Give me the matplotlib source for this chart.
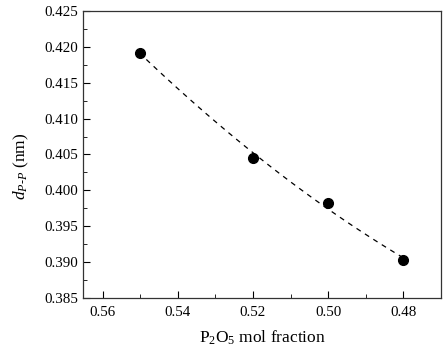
import numpy as np
import matplotlib
matplotlib.use("Agg")
import matplotlib.pyplot as plt
from matplotlib.ticker import MultipleLocator, FormatStrFormatter

plt.rcParams['font.family'] = ['Liberation Serif', 'DejaVu Serif']
plt.rcParams['mathtext.fontset'] = 'custom'
plt.rcParams['mathtext.rm'] = 'Liberation Serif'
plt.rcParams['mathtext.it'] = 'Liberation Serif:italic'

# data
p2o5 = [0.55, 0.52, 0.50, 0.48]
d_pp = [0.4192, 0.4045, 0.3983, 0.3903]

# quadratic fit for the dashed guide line
coef = np.polyfit(p2o5, d_pp, 2)
xf = np.linspace(min(p2o5), max(p2o5), 100)
yf = np.polyval(coef, xf)

fig = plt.figure(figsize=(4.48, 3.58), dpi=100)
ax = fig.add_axes([83/448, 1 - 298/358, (441-83)/448, (298-11)/358])

ax.plot(xf, yf, '--', color='black', lw=0.9, dashes=(4, 4))
ax.plot(p2o5, d_pp, 'o', color='black', ms=7)

ax.set_xlim(0.5653, 0.4699)
ax.set_ylim(0.385, 0.425)
ax.xaxis.set_major_locator(MultipleLocator(0.02))
ax.xaxis.set_minor_locator(MultipleLocator(0.01))
ax.yaxis.set_major_locator(MultipleLocator(0.005))
ax.yaxis.set_minor_locator(MultipleLocator(0.0025))
ax.xaxis.set_major_formatter(FormatStrFormatter('%.2f'))
ax.yaxis.set_major_formatter(FormatStrFormatter('%.3f'))
ax.tick_params(which='both', direction='in', labelsize=10.8)
ax.tick_params(axis='x', pad=6)
ax.tick_params(which='major', length=5)
ax.tick_params(which='minor', length=3)
for s in ax.spines.values():
    s.set_linewidth(0.9)
    s.set_color('#333333')

ax.set_xlabel(r'P$_2$O$_5$ mol fraction', fontsize=12.5, labelpad=7)
ax.set_ylabel(r'$d_{P\text{-}P}$ (nm)', fontsize=12.5)
ax.yaxis.set_label_coords(-0.145, 0.46)

fig.savefig('out.png', dpi=100)
